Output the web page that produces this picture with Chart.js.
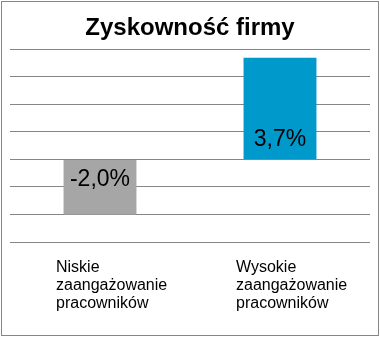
<!DOCTYPE html>
<html>
<head>
<meta charset="utf-8">
<script src="https://cdn.jsdelivr.net/npm/chart.js@4"></script>
<style>
  body { margin: 0; background: #fff; }
  #frame { position: absolute; left: 1px; top: 1px; width: 378px; height: 335px; box-sizing: border-box; border: 1px solid #868686; }
  #wrap { position: absolute; left: 0; top: 0; width: 380px; height: 337px; }
</style>
</head>
<body>
<div id="frame"></div>
<div id="wrap"><canvas id="profitChart"></canvas></div>
<script>
const categories = [
    ['Niskie', 'zaangażowanie', 'pracowników'],
    ['Wysokie', 'zaangażowanie', 'pracowników']
];
const values = [-2.0, 3.7];
const valueLabels = ['-2,0%', '3,7%'];
const barColors = ['#A6A6A6', '#0099CC'];

const FONT = '"Liberation Sans", Arial, sans-serif';

// étiquettes de valeur dans la barre, près de la base + catégories alignées à gauche
const labelsPlugin = {
    id: 'customLabels',
    afterDatasetsDraw(chart) {
        const ctx = chart.ctx;
        const meta = chart.getDatasetMeta(0);
        const yScale = chart.scales.y;
        const xScale = chart.scales.x;
        const zero = yScale.getPixelForValue(0);
        ctx.save();
        ctx.fillStyle = '#000';
        ctx.font = '23px ' + FONT;
        ctx.textAlign = 'center';
        ctx.textBaseline = 'middle';
        meta.data.forEach((bar, i) => {
            const dir = values[i] < 0 ? 1 : -1;
            ctx.fillText(valueLabels[i], bar.x, zero + dir * 20);
        });
        ctx.font = '16px ' + FONT;
        ctx.textAlign = 'left';
        ctx.textBaseline = 'alphabetic';
        categories.forEach((lines, i) => {
            const x = xScale.getPixelForValue(i) - 44;
            lines.forEach((line, j) => {
                ctx.fillText(line, x, yScale.bottom + 30 + j * 18);
            });
        });
        ctx.restore();
    }
};

new Chart(document.getElementById('profitChart'), {
    type: 'bar',
    data: {
        labels: categories.map(c => c.join(' ')),
        datasets: [{
            data: values,
            backgroundColor: barColors,
            borderWidth: 0,
            categoryPercentage: 1,
            barPercentage: 0.405
        }]
    },
    options: {
        responsive: true,
        maintainAspectRatio: false,
        animation: false,
        layout: {
            padding: { left: 10, right: 10, top: 0, bottom: 87 }
        },
        plugins: {
            legend: { display: false },
            tooltip: { enabled: false },
            title: {
                display: true,
                text: 'Zyskowność firmy',
                color: '#000',
                font: { family: FONT, size: 24, weight: 'bold', lineHeight: 1.1 },
                padding: { top: 15, bottom: 8 }
            }
        },
        scales: {
            x: {
                grid: { display: false },
                border: { display: false },
                ticks: { display: false }
            },
            y: {
                min: -3,
                max: 4,
                grid: { color: '#868686', lineWidth: 1, drawTicks: false },
                border: { display: false },
                ticks: { display: false, stepSize: 1 }
            }
        }
    },
    plugins: [labelsPlugin]
});
</script>
</body>
</html>
